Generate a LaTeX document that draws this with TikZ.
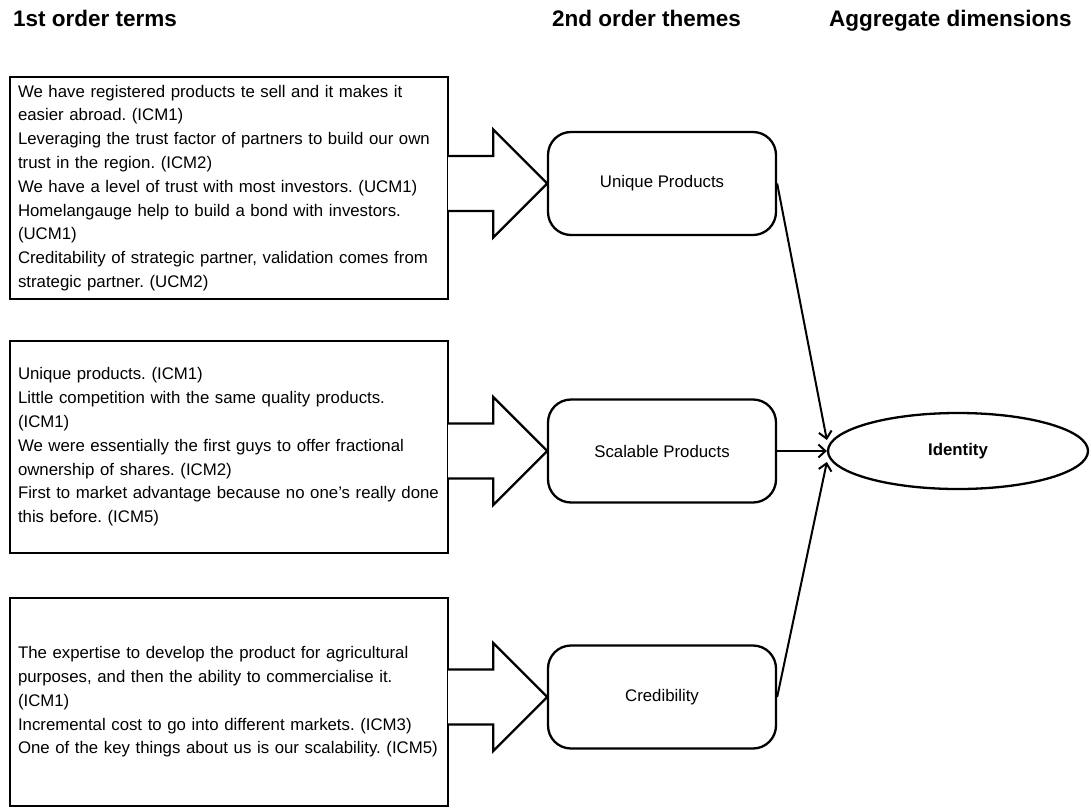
\documentclass[tikz,border=0pt]{standalone}
\usepackage{fontspec}
\setmainfont{Liberation Sans}
\usetikzlibrary{arrows.meta, shapes.geometric, positioning, calc}
\frenchspacing

\begin{document}
\begin{tikzpicture}[x=1pt, y=-1pt, line width=2.3pt,
    head/.style={anchor=base west, inner sep=0pt, font=\fontsize{22.5}{27}\selectfont\bfseries},
    term/.style={draw, rectangle, minimum width=438pt, inner xsep=8pt, text width=422pt,
                 align=left, font=\fontsize{16.8}{23.8}\selectfont},
    theme/.style={draw, rounded corners=23pt, minimum width=228pt, minimum height=103pt,
                  font=\fontsize{16.8}{20}\selectfont},
    dim/.style={draw, ellipse, minimum width=260pt, minimum height=76pt,
                font=\fontsize{16.8}{20}\selectfont\bfseries},
    link/.style={line width=2pt, -{Straight Barb[length=7pt,width=13pt]}}]

  \useasboundingbox (0,0) rectangle (1091,808);

  % column headers
  \node[head] (h1) at (12,27)  {1st order terms};
  \node[head] (h2) at (551,27) {2nd order themes};
  \node[head] (h3) at (828,27) {Aggregate dimensions};

  % 1st order terms
  \node[term, minimum height=222pt] (t1) at (229,188) {We have registered products te sell and it makes it\\
    easier abroad. (ICM1)\\
    Leveraging the trust factor of partners to build our own\\
    trust in the region. (ICM2)\\
    We have a level of trust with most investors. (UCM1)\\
    Homelangauge help to build a bond with investors.\\
    (UCM1)\\
    Creditability of strategic partner, validation comes from\\
    strategic partner. (UCM2)};
  \node[term, minimum height=212pt] (t2) at (229,447) {Unique products. (ICM1)\\
    Little competition with the same quality products.\\
    (ICM1)\\
    We were essentially the first guys to offer fractional\\
    ownership of shares. (ICM2)\\
    First to market advantage because no one’s really done\\
    this before. (ICM5)};
  \node[term, minimum height=208pt] (t3) at (229,702) {The expertise to develop the product for agricultural\\
    purposes, and then the ability to commercialise it.\\
    (ICM1)\\
    Incremental cost to go into different markets. (ICM3)\\
    One of the key things about us is our scalability. (ICM5)};

  % 2nd order themes
  \node[theme] (u) at (662,183.5) {Unique Products};
  \node[theme] (s) at (662,451)   {Scalable Products};
  \node[theme] (c) at (662,697)   {Credibility};

  % aggregate dimension
  \node[dim] (id) at (958,451) {Identity};

  % block arrows
  \draw[fill=white] ($(t1.east |- u.west)+(-1,-27.5)$) -- ++(45,0) -- ++(0,-26.5)
        -- ++(54,54) -- ++(-54,54) -- ++(0,-26.5) -- ++(-45,0);
  \draw[fill=white] ($(t2.east |- s.west)+(-1,-27.5)$) -- ++(45,0) -- ++(0,-26.5)
        -- ++(54,54) -- ++(-54,54) -- ++(0,-26.5) -- ++(-45,0);
  \draw[fill=white] ($(t3.east |- c.west)+(-1,-27.5)$) -- ++(45,0) -- ++(0,-26.5)
        -- ++(54,54) -- ++(-54,54) -- ++(0,-26.5) -- ++(-45,0);

  \path[link] (u.east) edge ([yshift=11pt]id.west)
              (s) edge (id)
              (c.east) edge ([yshift=-11pt]id.west);

\end{tikzpicture}
\end{document}
